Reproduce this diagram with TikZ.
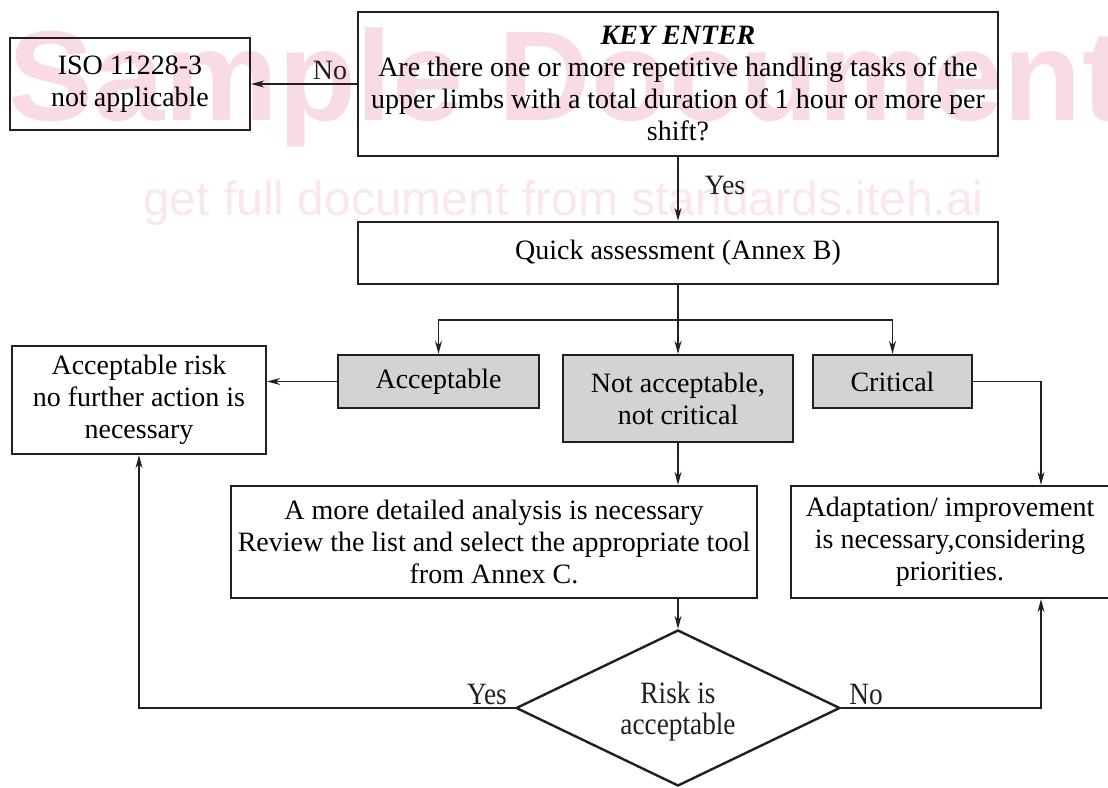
\documentclass[tikz,border=0pt]{standalone}
\usepackage{fontspec}
\setmainfont{Liberation Serif}
\newfontfamily\condfont[FakeStretch=0.88]{Liberation Serif}
\newfontfamily\wmfont{Liberation Sans}
\usetikzlibrary{shapes.geometric,arrows.meta}
\definecolor{ink}{HTML}{231F20}
\definecolor{boxgrey}{HTML}{D1D3D4}
\definecolor{wmbig}{HTML}{F9DBE4}
\definecolor{wmsmall}{HTML}{FCE6ED}
\begin{document}
\begin{tikzpicture}[x=1pt,y=-1pt,
  txt/.style={font=\fontsize{28}{32}\selectfont},
  ctxt/.style={font=\condfont\fontsize{31}{31}\selectfont},
  box/.style={txt,draw=ink,line width=2.4pt,align=center,inner sep=0pt},
  greybox/.style={box,fill=boxgrey},
  conn/.style={line width=1.1pt,draw=ink,-{Stealth[length=13pt,width=7pt]}},
  lbl/.style={txt,text=ink,inner sep=0pt},
  clbl/.style={ctxt,text=ink,inner sep=0pt,align=center}]
\useasboundingbox (0,0) rectangle (1108,787);
% watermark
\node[anchor=base west,inner sep=0pt,text=wmbig,font=\wmfont\bfseries\fontsize{128}{128}\selectfont] (wm1) at (8,120) {Sample Document};
\node[anchor=base west,inner sep=0pt,text=wmsmall,font=\wmfont\fontsize{48}{48}\selectfont] (wm2) at (143,215) {get full document from standards.iteh.ai};
% nodes
\node[box,minimum width=640pt,minimum height=144pt] (key) at (678,84)
  {\textbf{\textit{KEY ENTER}}\\Are there one or more repetitive handling tasks of the\\upper limbs with a total duration of 1 hour or more per\\shift?};
\node[box,minimum width=240pt,minimum height=92pt] (iso) at (130,84) {ISO 11228-3\\not applicable};
\node[box,minimum width=640pt,minimum height=62pt] (quick) at (678,253) {Quick assessment (Annex B)};
\node[greybox,minimum width=201pt,minimum height=53pt] (acc) at (438.5,381.5) {Acceptable};
\node[greybox,minimum width=230pt,minimum height=87pt] (nac) at (678,398.5) {Not acceptable,\\not critical};
\node[greybox,minimum width=159pt,minimum height=53pt] (crit) at (892.5,381.5) {Critical};
\node[box,minimum width=254pt,minimum height=108pt] (accrisk) at (139,400) {Acceptable risk\\no further action is\\necessary};
\node[box,minimum width=526pt,minimum height=112pt] (detail) at (494,542) {A more detailed analysis is necessary\\Review the list and select the appropriate tool\\from Annex C.};
\node[box,minimum width=318pt,minimum height=112pt] (adapt) at (950,542) {Adaptation/ improvement\\is necessary,considering\\priorities.};
\node[box,diamond,aspect=2.08,minimum width=324pt,minimum height=156pt] (dia) at (678,708) {};
\node[clbl] (diat) at (678,712) {Risk is\\acceptable};
\coordinate (colR) at (1041,0);
\coordinate (split) at (678,320);
% connectors
\draw[conn] (key.west) -- (iso.east);
\draw[conn] (key.south) -- (quick.north);
\draw[conn] (quick.south) -- (nac.north);
\draw[conn] (split) -| (acc.north);
\draw[conn] (split) -| (crit.north);
\draw[conn] (acc.west) -- (accrisk.east |- acc.west);
\draw[conn] (crit.east) -| (adapt.north -| colR);
\draw[conn] (nac.south) -- (nac.south |- detail.north);
\draw[conn] (dia.north |- detail.south) -- (dia.north);
\draw[conn] (dia.west) -| (accrisk.south);
\draw[conn] (dia.east) -| (adapt.south -| colR);
% labels
\node[lbl] (lno1) at (330,70) {No};
\node[lbl] (lyes1) at (725,185) {Yes};
\node[clbl] (lyes2) at (487,694) {Yes};
\node[clbl] (lno2) at (866,694) {No};
\end{tikzpicture}
\end{document}
